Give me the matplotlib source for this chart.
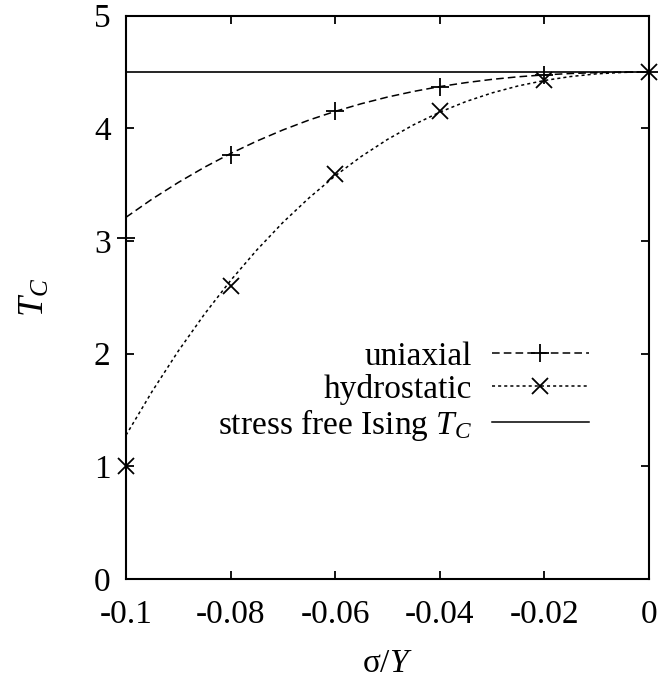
import matplotlib
matplotlib.use("Agg")
import matplotlib.pyplot as plt
from matplotlib.lines import Line2D

plt.rcParams["font.family"] = ["Liberation Serif", "DejaVu Serif"]
plt.rcParams["mathtext.fontset"] = "custom"
plt.rcParams["mathtext.rm"] = "Liberation Serif"
plt.rcParams["mathtext.it"] = "Liberation Serif:italic"

# data points
stress = [-0.1, -0.08, -0.06, -0.04, -0.02, 0.0]
tc_uniaxial = [3.03, 3.765, 4.15, 4.365, 4.47, 4.5]
tc_hydrostatic = [1.0, 2.6, 3.59, 4.15, 4.425, 4.5]
tc_ising = 4.5

# smooth fitted curves as they appear in the picture
curve_x = [-0.1, -0.095, -0.09, -0.085, -0.08, -0.075, -0.07, -0.065, -0.06, -0.055,
           -0.05, -0.045, -0.04, -0.035, -0.03, -0.025, -0.02, -0.015, -0.01, -0.005, 0.0]
curve_uniaxial = [3.21, 3.372, 3.519, 3.654, 3.776, 3.886, 3.985, 4.073, 4.150, 4.218,
                  4.277, 4.327, 4.370, 4.405, 4.434, 4.457, 4.474, 4.486, 4.494, 4.499, 4.5]
curve_hydrostatic = [1.276, 1.665, 2.023, 2.350, 2.649, 2.919, 3.164, 3.382, 3.578, 3.750,
                     3.901, 4.031, 4.143, 4.237, 4.314, 4.376, 4.424, 4.459, 4.483, 4.496, 4.5]

xticks = [-0.1, -0.08, -0.06, -0.04, -0.02, 0.0]
xticklabels = ["-0.1", "-0.08", "-0.06", "-0.04", "-0.02", "0"]
yticks = [0, 1, 2, 3, 4, 5]

fs = 24
lw = 1.1
uni_dash = (5.0, 2.7)
hyd_dash = (2.0, 2.0)

fig = plt.figure(figsize=(6.62, 6.78), dpi=100)
ax = fig.add_axes([0.1903, 0.146, 0.790, 0.831])

# fitted curves
ax.plot(curve_x, curve_uniaxial, color="black", lw=lw, dashes=uni_dash)
ax.plot(curve_x, curve_hydrostatic, color="black", lw=lw, dashes=hyd_dash)
ax.axhline(tc_ising, color="black", lw=1.2)

# data markers
ax.plot(stress, tc_uniaxial, ls="none", marker="+", ms=13, mew=1.3, color="black", clip_on=False)
ax.plot(stress, tc_hydrostatic, ls="none", marker="x", ms=11, mew=1.3, color="black", clip_on=False)

ax.set_xlim(-0.1, 0.0)
ax.set_ylim(0, 5)
ax.set_xticks(xticks)
ax.set_xticklabels(xticklabels)
ax.set_yticks(yticks)
ax.tick_params(direction="in", length=6, width=1.3, top=True, right=True,
               labelsize=fs, pad=11)
ax.tick_params(axis="x", pad=15)
for s in ax.spines.values():
    s.set_linewidth(1.5)

ax.set_xlabel(r"σ/$Y$", fontsize=fs, labelpad=13)
ax.set_ylabel(r"$T_C$", fontsize=26, labelpad=30)

handles = [
    Line2D([], [], color="black", lw=lw, dashes=uni_dash, marker="+", ms=13, mew=1.3),
    Line2D([], [], color="black", lw=lw, dashes=hyd_dash, marker="x", ms=11, mew=1.3),
    Line2D([], [], color="black", lw=lw),
]
labels = ["uniaxial", "hydrostatic", r"stress free Ising $T_C$"]
ax.legend(handles, labels, loc="upper right", bbox_to_anchor=(0.885, 0.422),
          frameon=False, markerfirst=False, numpoints=1, fontsize=fs,
          handlelength=2.9, handletextpad=0.6, labelspacing=0.06,
          borderpad=0, borderaxespad=0)

fig.savefig("out.png", dpi=100)
